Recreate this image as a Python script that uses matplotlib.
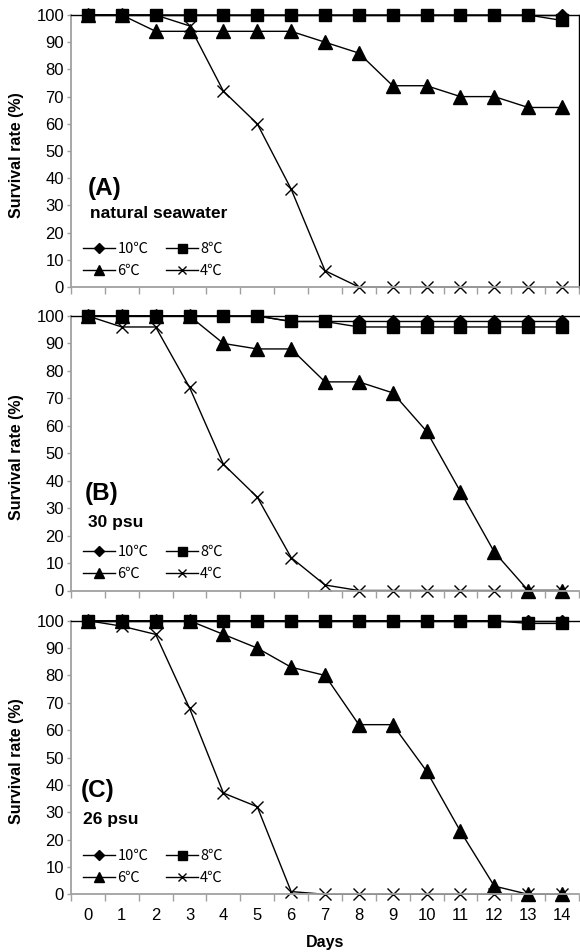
import matplotlib
matplotlib.use('Agg')
import matplotlib.pyplot as plt

plt.rcParams['font.family'] = ['Liberation Sans', 'Noto Sans CJK SC', 'DejaVu Sans']

days = [0, 1, 2, 3, 4, 5, 6, 7, 8, 9, 10, 11, 12, 13, 14]
series_labels = ['10℃', '8℃', '6℃', '4℃']
panel_titles = ['(A)', '(B)', '(C)']
panel_subtitles = ['natural seawater', '30 psu', '26 psu']

A_10 = [100, 100, 100, 100, 100, 100, 100, 100, 100, 100, 100, 100, 100, 100, 100]
A_8 = [100, 100, 100, 100, 100, 100, 100, 100, 100, 100, 100, 100, 100, 100, 98]
A_6 = [100, 100, 94, 94, 94, 94, 94, 90, 86, 74, 74, 70, 70, 66, 66]
A_4 = [100, 100, 100, 96, 72, 60, 36, 6, 0, 0, 0, 0, 0, 0, 0]

B_10 = [100, 100, 100, 100, 100, 100, 98, 98, 98, 98, 98, 98, 98, 98, 98]
B_8 = [100, 100, 100, 100, 100, 100, 98, 98, 96, 96, 96, 96, 96, 96, 96]
B_6 = [100, 100, 100, 100, 90, 88, 88, 76, 76, 72, 58, 36, 14, 0, 0]
B_4 = [100, 96, 96, 74, 46, 34, 12, 2, 0, 0, 0, 0, 0, 0, 0]

C_10 = [100, 100, 100, 100, 100, 100, 100, 100, 100, 100, 100, 100, 100, 100, 100]
C_8 = [100, 100, 100, 100, 100, 100, 100, 100, 100, 100, 100, 100, 100, 99, 99]
C_6 = [100, 100, 100, 100, 95, 90, 83, 80, 62, 62, 45, 23, 3, 0, 0]
C_4 = [100, 98, 95, 68, 37, 32, 1, 0, 0, 0, 0, 0, 0, 0, 0]

panels = [[A_10, A_8, A_6, A_4], [B_10, B_8, B_6, B_4], [C_10, C_8, C_6, C_4]]

W, H = 580, 952
fig = plt.figure(figsize=(W / 100, H / 100), dpi=100)

# (top px, bottom px) of each plot area
rows_px = [(15, 287), (316, 590.5), (620.7, 894.3)]
L_px, R_px = 71, 579

marker_specs = [
    dict(marker='D', markersize=6.5),
    dict(marker='s', markersize=9),
    dict(marker='^', markersize=10.5),
    dict(marker='x', markersize=8.5, markeredgewidth=1.0),
]

grey = '#a0a0a0'
text_pos = [((0.0, 34.0), (0.05, 25.4)), ((-0.1, 33.0), (0.0, 23.0)), ((-0.2, 35.7), (-0.15, 25.6))]

for i, (series, (top, bot)) in enumerate(zip(panels, rows_px)):
    ax = fig.add_axes([L_px / W, 1 - bot / H, (R_px - L_px) / W, (bot - top) / H])
    handles = []
    for vals, lab, spec in zip(series, series_labels, marker_specs):
        h, = ax.plot(days, vals, color='black', linewidth=1.0, label=lab,
                     markerfacecolor='black', markeredgecolor='black', clip_on=False, **spec)
        handles.append(h)
    ax.set_xlim(-0.5, 14.5)
    ax.set_ylim(0, 100)
    ax.set_yticks(range(0, 101, 10))
    ax.set_xticks([d - 0.5 for d in days] + [14.5])
    ax.set_xticklabels([])
    ax.set_xticks(days, minor=True)
    if i == 2:
        ax.set_xticklabels([str(d) for d in days], minor=True, fontsize=12)
    else:
        ax.set_xticklabels([], minor=True)
    ax.tick_params(axis='x', which='minor', length=0, pad=10)
    ax.tick_params(axis='x', which='major', length=5, color=grey, width=1)
    ax.tick_params(axis='y', length=3, color=grey, width=1, labelsize=12, pad=2)
    for s in ['left', 'bottom']:
        ax.spines[s].set_color(grey)
        ax.spines[s].set_linewidth(1.3)
    ax.spines['top'].set_color('black')
    ax.spines['top'].set_linewidth(1.0)
    if i == 0:
        ax.spines['right'].set_color('black')
        ax.spines['right'].set_linewidth(1.0)
    else:
        ax.spines['right'].set_visible(False)

    (tx, ty), (sx, sy) = text_pos[i]
    ax.text(tx, ty, panel_titles[i], fontsize=17.5, fontweight='bold', ha='left', va='baseline')
    ax.text(sx, sy, panel_subtitles[i], fontsize=12.5, fontweight='bold', ha='left', va='baseline')

    order = [0, 2, 1, 3]
    ax.legend([handles[k] for k in order], [series_labels[k] for k in order],
              ncol=2, loc='upper left', bbox_to_anchor=((83 - L_px) / (R_px - L_px), 0.166),
              frameon=False, handlelength=2.2, handletextpad=0.15,
              columnspacing=1.2, labelspacing=0.55, borderpad=0, borderaxespad=0,
              markerscale=0.72,
              prop=dict(family=['Noto Sans CJK SC', 'DejaVu Sans'], size=10.5))

    fig.text(17 / W, 1 - (top + bot + 8) / 2 / H, 'Survival rate (%)', rotation=90,
             ha='center', va='center', fontsize=11.5, fontweight='bold')

fig.text((L_px + R_px) / 2 / W, 1 - 942 / H, 'Days', ha='center', va='center',
         fontsize=11.5, fontweight='bold')

fig.savefig('out.png', dpi=100)
